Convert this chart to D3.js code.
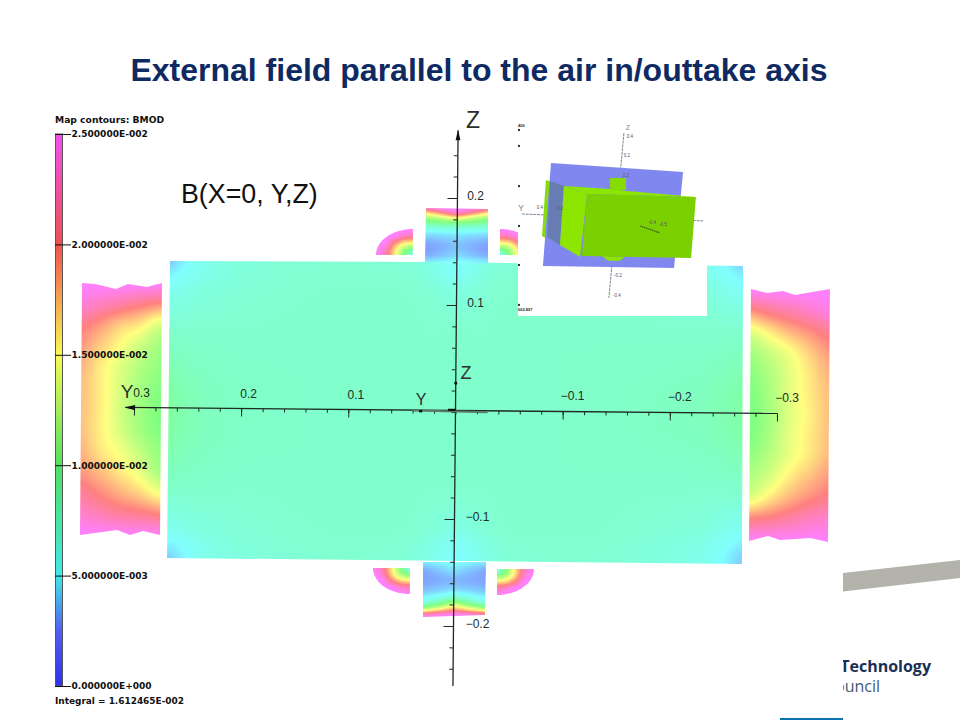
<!DOCTYPE html>
<html><head><meta charset="utf-8">
<style>html,body{margin:0;padding:0;background:#fff}svg{display:block}</style>
<script src="https://cdnjs.cloudflare.com/ajax/libs/d3/7.8.5/d3.min.js"></script>
</head><body><svg id="c" width="960" height="720"></svg>
<script>
// ---------- DATA (BMOD in mT, Y and Z in metres) ----------
const titleText = "External field parallel to the air in/outtake axis";
const subtitleText = "B(X=0, Y,Z)";
const bmodTicks = [25,20,15,10,5,0];
const bmodStops = [0,2.5,5,10,15,20,25];
const fieldColors = ["#6060ff","#8080ff","#80ffff","#80ff80","#ffff80","#ff8080","#ff80ff"];
const barColors = ["#3030f0","#5060f0","#40e8e8","#50e060","#fafa50","#f05050","#f050f0"];
const yMajor = [0.3,0.2,0.1,-0.1,-0.2,-0.3];
const zMajor = [0.2,0.1,-0.1,-0.2];
const yMinor = d3.range(-15,16).map(d=>d*0.02);
const zMinor = d3.range(-12,13).map(d=>d*0.02);

const bodyY = [.2683,.2571,.2384,.2011,.1264,.0518,.0285,-.0014,-.0303,-.0509,-.1348,-.2281,-.2515,-.2683];
const bodyZ = [.1411,.1308,.1140,.0766,.0009,-.0729,-.1103,-.1243,-.1411];
const bodyBmod = [
[3.9,4.6,5.6,6.3,6.7,6.6,6.2,5.0,6.2,6.6,6.7,5.8,4.8,4.0],
[4.6,5.0,5.7,6.4,6.8,6.7,6.3,5.3,6.3,6.7,6.8,6.0,5.2,4.5],
[5.6,5.8,6.2,6.6,6.9,6.9,6.7,6.1,6.7,6.9,6.9,6.4,5.8,5.4],
[7.0,6.9,6.9,6.9,7.0,7.0,6.9,6.9,6.9,7.0,7.0,6.9,6.9,6.9],
[8.8,8.2,7.6,7.2,7.0,7.0,7.0,7.0,7.0,7.0,7.1,7.5,8.0,8.5],
[7.1,7.0,7.0,6.9,7.0,7.0,6.9,6.9,6.9,7.0,7.0,6.9,6.9,7.0],
[5.6,5.8,6.2,6.6,6.9,6.9,6.6,6.0,6.6,6.9,6.9,6.4,5.8,5.4],
[4.7,5.0,5.7,6.4,6.8,6.7,6.2,5.3,6.2,6.7,6.8,6.0,5.2,4.6],
[3.9,4.6,5.6,6.3,6.7,6.6,6.0,5.0,6.0,6.6,6.7,5.8,4.8,4.0]];
const bodyOutline = [[.2664,.1411],[.0285,.1402],[-.0303,.1395],[-.2683,.1364],[-.2673,-.1421],[.2692,-.1364]];

const topNeckY = [.0275,.0126,-.0014,-.0163,-.0303];
const topNeckZ = [.1916,.1888,.1850,.1813,.1776,.1729,.1673,.1561,.1467,.1402];
const topNeckBmod = [
[25,25,25,25,25],[20,23,25,23,20],[15,18,21,18,15],[11.5,13,15,13,11.5],[9,10,10.5,10,9],
[6.6,6.8,7,6.8,6.6],[4.6,4.7,4.8,4.7,4.6],[3.2,3.5,3.8,3.5,3.2],[3.4,3.8,4.2,3.8,3.4],[4.6,4.8,5,4.8,4.6]];
const topNeckOutline = [[.0275,.1907],[-.0303,.1897],[-.0303,.1393],[.0285,.1402]];

const lowNeckY = [.0303,.0154,.0014,-.0135,-.0285];
const lowNeckZ = [-.1402,-.1477,-.1570,-.1664,-.1729,-.1776,-.1813,-.1850,-.1888,-.1916];
const lowNeckBmod = [
[4.6,4.8,5,4.8,4.6],[3.4,3.9,4.4,3.9,3.4],[3.2,3.4,3.6,3.4,3.2],[3.8,4.1,4.4,4.1,3.8],[4.8,5.5,6.5,5.5,4.8],
[6,8,10.5,8,6],[9,11.5,14.5,11.5,9],[14,16.5,19,16.5,14],[21,23,24,23,21],[25,25,25,25,25]];
const lowNeckOutline = [[.0303,-.1402],[-.0285,-.1402],[-.0275,-.1897],[.0303,-.1916]];

const leftY = [.3504,.3317,.3131,.2944,.2757];
const leftZ = [.1206,.1009,.0813,.0617,.0421,.0224,.0037,-.0159,-.0355,-.0551,-.0748,-.0944,-.1168];
const leftBmod = [
[25,25,25,25,25],[23.5,22.5,21.5,20.5,19.5],[20.5,19,17,15.8,13.5],[19,17,15,13,11.5],
[18,15.8,13.8,12,10.8],[17.5,15.7,13.5,11.5,10.2],[17.5,15.7,13.3,11.3,10],[17.5,15.6,13.5,11.4,10],
[18,16,14.5,12.5,10.8],[19,17.5,15.8,14,11.5],[21,19.5,18,16.5,14.5],[23,22,21,20.5,19.5],[25,25,25,25,25]];
const leftOutline = [[.3485,.1206],[.3364,.1196],[.3168,.1150],[.3056,.1196],[.2879,.1168],[.2739,.1206],
[.2757,-.1150],[.2916,-.1112],[.3037,-.1150],[.3159,-.1103],[.3504,-.1150]];

const rightY = [-.2748,-.2935,-.3121,-.3308,-.3494];
const rightZ = [.1150,.0953,.0757,.0561,.0364,.0168,-.0019,-.0215,-.0411,-.0607,-.0804,-.1000,-.1215];
const rightBmod = [
[25,25,25,25,25],[19.5,21,22,23,24],[14,16,18,19.5,21],[11.5,13,14.8,17,19],
[10.5,12,14,16,18],[10,11.7,14,15.8,17.5],[9.8,11.5,13.8,15.6,17.5],[10,11.7,14,15.8,17.5],
[10.8,12.3,14.3,16,17.8],[12,13.5,15.8,17.5,19],[13.8,16,18,19.5,20.5],[20,20.5,21.5,22.5,23],[25,25,25,25,25]];
const rightOutline = [[-.2757,.1150],[-.2907,.1112],[-.3056,.1131],[-.3168,.1093],[-.3494,.1150],
[-.3476,-.1215],[-.3308,-.1178],[-.3028,-.1196],[-.2916,-.1159],[-.2739,-.1206]];

const lobeFractions = [0,.25,.5,.75,1];
const lobeBmod = [[5.5,10,16,22,25],[10,12,17,23,25],[16,17,20.5,25,25],[22,23,25,25,25],[25,25,25,25,25]];
const lobeCornerY = [.0397,-.0415,.0425,-.0387];
const lobeCornerZ = [.1467,.1467,-.1458,-.1467];
const lobeSignY = [1,-1,1,-1];
const lobeSignZ = [1,1,-1,-1];
const lobeRadiusY = .0345, lobeRadiusZ = .0243;

// inset model, projected metres
const insetPlane = [[.21,.18],[-.23,.15],[-.2,-.17],[.237,-.163]];
const insetBackWall = [[.227,.123],[.24,-.063],[.18,-.1],[.167,.103]];
const insetOverlap = [[.213,.12],[.167,.103],[.18,-.093],[.223,-.067]];
const insetSide = [[.167,.103],[.18,-.093],[.113,-.133],[.09,.077]];
const insetTop = [[.167,.103],[.013,.093],[-.043,.087],[-.273,.067],[.09,.077]];
const insetFront = [[.09,.077],[-.273,.067],[-.257,-.137],[.107,-.13]];
const insetChimney = [[.013,.13],[-.04,.13],[-.04,.09],[.013,.09]];
const insetBump = [[.04,-.13],[-.035,-.133],[-.02,-.146],[.02,-.146]];
const insetZAxis = [[-.033,.28],[.017,-.27]];
const insetYAxis = [[.307,.01],[-.297,-.013]];
const insetMesh = [[-.087,-.03],[-.153,-.053]];
const insetLabels = ["0.4","0.2","0.4","0.2","0.2","-0.2","-0.4","-0.4","-0.5"];
const insetLabelU = [.247,.18,-.053,-.043,-.04,-.013,-.01,-.127,-.163];
const insetLabelV = [.027,.023,.262,.2,.133,-.2,-.267,-.023,-.03];
const insetBarLevels = [.29,.237,.103,-.03,-.16,-.293];

// ---------- SCALES ----------
const yS = d3.scaleLinear().domain([0.3,-0.3]).range([134,777]);
const zS = d3.scaleLinear().domain([0.2,-0.2]).range([198,626]);
const barS = d3.scaleLinear().domain([25,0]).range([134,686]);
const iu = d3.scaleLinear().domain([.4,-.4]).range([494,734]);
const iv = d3.scaleLinear().domain([.4,-.4]).range([97,337]);
const colorS = d3.scaleLinear().domain(bmodStops).range(fieldColors).clamp(true);
const barColorS = d3.scaleLinear().domain(bmodStops).range(barColors);
const lut = d3.range(0,2501).map(i=>d3.rgb(colorS(i/100)));

const svg = d3.select("#c");
const defs = svg.append("defs");
svg.append("rect").attr("width",960).attr("height",720).attr("fill","#fff");
const sans = "'Liberation Sans',Arial,sans-serif";
defs.append("filter").attr("id","soft").append("feGaussianBlur").attr("stdDeviation",.35);

// ---------- FIELD PAINT ----------
function cr(a,b,c,d,t){return .5*((2*b)+(-a+c)*t+(2*a-5*b+4*c-d)*t*t+(-a+3*b-3*c+d)*t*t*t);}
function locate(ns,v){
  if(v<=ns[0])return [0,0];
  if(v>=ns[ns.length-1])return [ns.length-2,1];
  const i=d3.bisectRight(ns,v)-1;
  return [i,(v-ns[i])/(ns[i+1]-ns[i])];
}
let clipId=0;
function paintRegion(parent,xs,ys,vals,outline){
  if(xs[0]>xs[xs.length-1]){xs=xs.slice().reverse();vals=vals.map(r=>r.slice().reverse());}
  if(ys[0]>ys[ys.length-1]){ys=ys.slice().reverse();vals=vals.slice().reverse();}
  const x0=Math.floor(d3.min(outline,p=>p[0]))-1,x1=Math.ceil(d3.max(outline,p=>p[0]))+1;
  const y0=Math.floor(d3.min(outline,p=>p[1]))-1,y1=Math.ceil(d3.max(outline,p=>p[1]))+1;
  const w=x1-x0,h=y1-y0;
  const cv=document.createElement("canvas");cv.width=w;cv.height=h;
  const ctx=cv.getContext("2d"),img=ctx.createImageData(w,h);
  const nx=xs.length,ny=ys.length;
  const cl=(a,n)=>a<0?0:a>=n?n-1:a;
  for(let j=0;j<h;j++){
    const [ry,fy]=locate(ys,y0+j+.5);
    for(let i=0;i<w;i++){
      const [rx,fx]=locate(xs,x0+i+.5);
      const rowv=[-1,0,1,2].map(dr=>{
        const r=vals[cl(ry+dr,ny)];
        return cr(r[cl(rx-1,nx)],r[rx],r[rx+1],r[cl(rx+2,nx)],fx);
      });
      let v=cr(rowv[0],rowv[1],rowv[2],rowv[3],fy);
      const c=lut[Math.max(0,Math.min(2500,Math.round(v*100)))];
      const k=(j*w+i)*4;
      img.data[k]=c.r;img.data[k+1]=c.g;img.data[k+2]=c.b;img.data[k+3]=255;
    }
  }
  ctx.putImageData(img,0,0);
  const id="clip"+(clipId++);
  defs.append("clipPath").attr("id",id).append("polygon").attr("points",outline.map(p=>p.join(",")).join(" "));
  parent.append("image").attr("x",x0).attr("y",y0).attr("width",w).attr("height",h)
    .attr("href",cv.toDataURL()).attr("clip-path",`url(#${id})`);
}
const toPx = pts=>pts.map(p=>[yS(p[0]),zS(p[1])]);
const gField = svg.append("g");
paintRegion(gField,leftY.map(yS),leftZ.map(zS),leftBmod,toPx(leftOutline));
paintRegion(gField,rightY.map(yS),rightZ.map(zS),rightBmod,toPx(rightOutline));
lobeCornerY.forEach((cy,k)=>{
  const cz=lobeCornerZ[k],sy=lobeSignY[k],sz=lobeSignZ[k];
  const xs=lobeFractions.map(f=>yS(cy+sy*f*lobeRadiusY));
  const ys=lobeFractions.map(f=>zS(cz+sz*f*lobeRadiusZ));
  const arc=d3.range(0,25).map(i=>{const a=i/24*Math.PI/2;
    return [yS(cy+sy*Math.cos(a)*lobeRadiusY),zS(cz+sz*Math.sin(a)*lobeRadiusZ)];});
  paintRegion(gField,xs,ys,lobeBmod,[[yS(cy),zS(cz)]].concat(arc));
});
paintRegion(gField,bodyY.map(yS),bodyZ.map(zS),bodyBmod,toPx(bodyOutline));
paintRegion(gField,topNeckY.map(yS),topNeckZ.map(zS),topNeckBmod,toPx(topNeckOutline));
paintRegion(gField,lowNeckY.map(yS),lowNeckZ.map(zS),lowNeckBmod,toPx(lowNeckOutline));

// ---------- MAIN AXES ----------
const gAxes = svg.append("g").attr("transform",`rotate(.53,${yS(0)},${zS(0)-1.5})`);
const axisInk="#1c2a22";
function styleAxis(g,sw){g.selectAll("path").remove();g.selectAll("text").remove();
  g.selectAll("line").attr("stroke",axisInk).attr("stroke-width",sw);}
const yLevel=zS(0)-1.5;
gAxes.append("g").attr("transform",`translate(0,${yLevel})`)
  .call(d3.axisBottom(yS).tickValues(yMinor).tickSize(3.5).tickFormat("")).call(styleAxis,1);
gAxes.append("g").attr("transform",`translate(0,${yLevel})`)
  .call(d3.axisBottom(yS).tickValues(yMajor).tickSize(8).tickFormat("")).call(styleAxis,1);
gAxes.append("g").attr("transform",`translate(${yS(0)},0)`)
  .call(d3.axisLeft(zS).tickValues(zMinor).tickSize(4).tickFormat("")).call(styleAxis,1);
gAxes.append("g").attr("transform",`translate(${yS(0)},0)`)
  .call(d3.axisLeft(zS).tickValues(zMajor).tickSize(10).tickFormat("")).call(styleAxis,1);
gAxes.append("line").attr("x1",yS(.308)).attr("x2",yS(-.3)).attr("y1",yLevel).attr("y2",yLevel)
  .attr("stroke",axisInk).attr("stroke-width",1.3);
gAxes.append("line").attr("x1",yS(0)).attr("x2",yS(0)).attr("y1",zS(.263)).attr("y2",zS(-.256))
  .attr("stroke",axisInk).attr("stroke-width",1.3);
gAxes.append("path").attr("fill","#111")
  .attr("d",d3.line()([[yS(.309),yLevel],[yS(.299),yLevel-2.6],[yS(.299),yLevel+2.6]])+"Z");
gAxes.append("path").attr("fill","#111")
  .attr("d",d3.line()([[yS(0),zS(.264)],[yS(0)-2.4,zS(.254)],[yS(0)+2.4,zS(.254)]])+"Z");
// inner short axes near the origin
gAxes.append("line").attr("x1",yS(.04)).attr("x2",yS(-.03)).attr("y1",yLevel+.5).attr("y2",yLevel+1.5)
  .attr("stroke","#5c7a6c").attr("stroke-width",2);
gAxes.append("line").attr("x1",yS(.007)).attr("x2",yS(0)).attr("y1",yLevel-.6).attr("y2",yLevel-.6)
  .attr("stroke","#111").attr("stroke-width",2.4);
gAxes.append("line").attr("x1",yS(.034)).attr("x2",yS(.031)).attr("y1",yLevel+1).attr("y2",yLevel+1)
  .attr("stroke","#111").attr("stroke-width",2.4);
gAxes.append("circle").attr("cx",yS(0)).attr("cy",zS(.027)).attr("r",1.6).attr("fill","#111");

const tick = d=>String(Math.abs(d)).replace(/^/,d<0?"\u2212":"");
const gLab = svg.append("g").attr("font-family",sans).attr("font-size",12).attr("fill","#1d2b24").attr("text-anchor","middle");
gLab.selectAll(".ly").data(yMajor).join("text").attr("class","ly")
  .attr("x",d=>yS(d)+(d<0?10:7.5)).attr("y",d=>zS(0)-12.5-d*8).text(tick);
gLab.selectAll(".lz").data(zMajor).join("text").attr("class","lz")
  .attr("x",d=>yS(0)+(d<0?22:20)).attr("y",d=>zS(d)+2).text(tick);
const axLetters = svg.append("g").attr("font-family",sans).attr("fill","#2a2f2c").attr("text-anchor","middle");
axLetters.append("text").attr("x",473).attr("y",128).attr("font-size",23).text("Z");
axLetters.append("text").attr("x",127).attr("y",398).attr("font-size",19).text("Y");
axLetters.append("text").attr("x",466).attr("y",379).attr("font-size",18).text("Z");
axLetters.append("text").attr("x",421).attr("y",405).attr("font-size",16).text("Y");

// ---------- COLOUR BAR ----------
const grad = defs.append("linearGradient").attr("id","barGrad").attr("x1",0).attr("x2",0).attr("y1",1).attr("y2",0);
grad.selectAll("stop").data(bmodStops).join("stop")
  .attr("offset",d=>d/25).attr("stop-color",d=>barColorS(d));
svg.append("rect").attr("x",55.5).attr("width",7).attr("y",barS(25)).attr("height",barS(0)-barS(25))
  .attr("fill","url(#barGrad)").attr("stroke","#555").attr("stroke-width",1);
const fmtE = d=>{const v=d/1000;
  if(v===0)return "0.000000E+000";
  const e=Math.floor(Math.log10(v)+1e-9),m=v/Math.pow(10,e);
  return m.toFixed(6)+"E"+(e<0?"-":"+")+String(Math.abs(e)).padStart(3,"0");};
const gBar = svg.append("g").attr("transform","translate(55,0)").call(d3.axisRight(barS).tickValues(bmodTicks).tickSize(16).tickFormat(fmtE));
gBar.select("path").remove();
gBar.selectAll("line").attr("stroke","#111").attr("stroke-width",1);
gBar.selectAll("text").attr("x",16.5).attr("font-family","'DejaVu Sans',sans-serif").attr("font-weight","bold").attr("font-size",9.05).attr("fill","#111");
const noteAttrs = s=>s.attr("x",55).attr("font-family","'DejaVu Sans',sans-serif").attr("font-weight","bold").attr("font-size",9.2).attr("fill","#111");
svg.append("text").call(noteAttrs).attr("y",123).text("Map contours: BMOD");
svg.append("text").call(noteAttrs).attr("y",704).attr("font-size",8.95).text("Integral = 1.612465E-002");

// ---------- INSET ----------
const gIn = svg.append("g");
gIn.append("rect").attr("x",518).attr("y",112).attr("width",189).attr("height",204).attr("fill","#fff");
const gM = gIn.append("g").attr("filter","url(#soft)");
const poly=(pts,fill)=>gM.append("polygon").attr("points",pts.map(p=>[iu(p[0]),iv(p[1])].join(",")).join(" ")).attr("fill",fill);
const iline=(pts,col,w)=>gM.append("line").attr("x1",iu(pts[0][0])).attr("y1",iv(pts[0][1])).attr("x2",iu(pts[1][0])).attr("y2",iv(pts[1][1])).attr("stroke",col).attr("stroke-width",w);
iline(insetZAxis,"#667",.8).attr("stroke-dasharray","3 .8");
iline(insetYAxis,"#667",.8).attr("stroke-dasharray","3 .8");
poly(insetBackWall,"#84dc08");
poly(insetPlane,"#8088f0");
poly(insetOverlap,"#687cb4");
poly(insetBump,"#8ce400");
poly(insetSide,"#8ce600");
poly(insetTop,"#8ce600");
poly(insetFront,"#7ad000");
poly(insetChimney,"#86dc00");
iline(insetMesh,"#3f6a10",1.3).attr("stroke-dasharray","1.5 .6");
gIn.selectAll(".il").data(insetLabels).join("text").attr("class","il")
  .attr("x",(d,i)=>iu(insetLabelU[i])).attr("y",(d,i)=>iv(insetLabelV[i]))
  .attr("font-family",sans).attr("font-size",4.5).attr("fill","#556").attr("text-anchor","middle").text(d=>d);
gIn.append("text").attr("x",521).attr("y",211).attr("font-family",sans).attr("font-size",9).attr("fill","#889").attr("text-anchor","middle").text("Y");
gIn.append("text").attr("x",628).attr("y",130).attr("font-family",sans).attr("font-size",7).attr("fill","#889").attr("text-anchor","middle").text("Z");
gIn.selectAll(".bd").data(insetBarLevels).join("rect").attr("class","bd")
  .attr("x",518).attr("width",2).attr("height",2).attr("y",d=>iv(d)-1).attr("fill","#333");
gIn.append("text").attr("x",518).attr("y",127).attr("font-family",sans).attr("font-size",4).attr("font-weight","bold").attr("fill","#222").text("400");
gIn.append("text").attr("x",518).attr("y",311).attr("font-family",sans).attr("font-size",4).attr("font-weight","bold").attr("fill","#222").text("002.897");

// ---------- TITLE + SLIDE FURNITURE ----------
svg.append("text").attr("x",479).attr("y",81).attr("text-anchor","middle")
  .attr("font-family",sans).attr("font-weight","bold").attr("font-size",32).attr("fill","#0f2a63").text(titleText);
svg.append("text").attr("x",181).attr("y",203).attr("font-family",sans).attr("font-size",26.8).attr("fill","#111").text(subtitleText);
svg.append("polygon").attr("points","843,573 960,560 960,578 843,591.5").attr("fill","#b3b3ab");
defs.append("clipPath").attr("id","logoClip").append("rect").attr("x",843).attr("y",640).attr("width",117).attr("height",60);
const logo=svg.append("g").attr("clip-path","url(#logoClip)").attr("font-family","'Open Sans',sans-serif").attr("text-anchor","end").attr("fill","#1a2f55");
logo.append("text").attr("x",931).attr("y",672).attr("font-size",16).attr("font-weight","bold").text("Technology");
logo.append("text").attr("x",880).attr("y",692).attr("font-size",16).attr("fill","#45597a").text("Council");
svg.append("rect").attr("x",780).attr("y",718).attr("width",63).attr("height",2).attr("fill","#0b72b5");
</script></body></html>
